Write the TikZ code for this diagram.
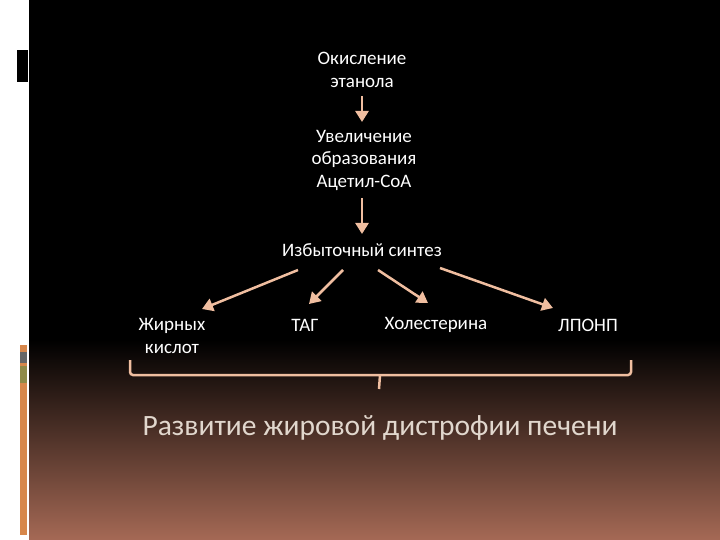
\documentclass[tikz,border=0pt]{standalone}
\usepackage{fontspec}
\setmainfont{Carlito}
\usetikzlibrary{arrows.meta}
\definecolor{arr}{RGB}{240,190,160}
\definecolor{bot}{RGB}{165,105,85}
\definecolor{strip}{RGB}{215,135,75}
\tikzset{lbl/.style={text=white,font=\fontsize{19}{22.5}\selectfont,align=center,inner sep=1pt},
 con/.style={draw=arr,line width=2.5pt,-{Triangle[length=11pt,width=13pt]}}}
\begin{document}
\begin{tikzpicture}[x=1pt,y=-1pt]
\useasboundingbox (0,0) rectangle (720,540);
\fill[white] (0,0) rectangle (29,540);
\fill[black] (29,0) rectangle (720,340);
\shade[top color=black,bottom color=bot] (29,340) rectangle (720,540);
\fill[black] (17,50) rectangle (28,82);
\fill[strip] (20,345) rectangle (27,535);
\fill[black!60] (20,352) rectangle (27,363);
\fill[olive!50!gray] (20,366) rectangle (27,383);
\node[lbl] (a) at (362,70) {Окисление\\этанола};
\node[lbl] (b) at (364,160) {Увеличение\\образования\\Ацетил-CoA};
\node[lbl] (c) at (362,250) {Избыточный синтез};
\node[lbl] (d1) at (172,336) {Жирных\\кислот};
\node[lbl] (d2) at (305,325) {ТАГ};
\node[lbl] (d3) at (436,325) {Холестерина};
\node[lbl] (d4) at (588,325) {ЛПОНП};
\node[text={rgb,255:red,225;green,215;blue,205},font=\fontsize{29.5}{34}\selectfont] (e) at (380,428) {Развитие жировой дистрофии печени};
\coordinate (a1) at (362,96); \coordinate (a2) at (362,122);
\coordinate (b1) at (362,198); \coordinate (b2) at (362,234);
\draw[con] (a1) -- (a2);
\draw[con] (b1) -- (b2);
\coordinate (s1) at (298,270); \coordinate (t1) at (202,309);
\coordinate (s2) at (343,270); \coordinate (t2) at (309,304);
\coordinate (s3) at (378,270); \coordinate (t3) at (428,303);
\coordinate (s4) at (440,268); \coordinate (t4) at (553,308);
\draw[con] (s1) -- (t1);
\draw[con] (s2) -- (t2);
\draw[con] (s3) -- (t3);
\draw[con] (s4) -- (t4);
\coordinate (bl) at (130,360); \coordinate (br) at (631,360);
\draw[arr,line width=2.5pt,rounded corners=3pt] (bl) -- (130,375) -- (631,375) -- (br);
\coordinate (m1) at (380,375); \coordinate (m2) at (379,389);
\draw[arr,line width=2.5pt] (m1) -- (m2);
\end{tikzpicture}
\end{document}
